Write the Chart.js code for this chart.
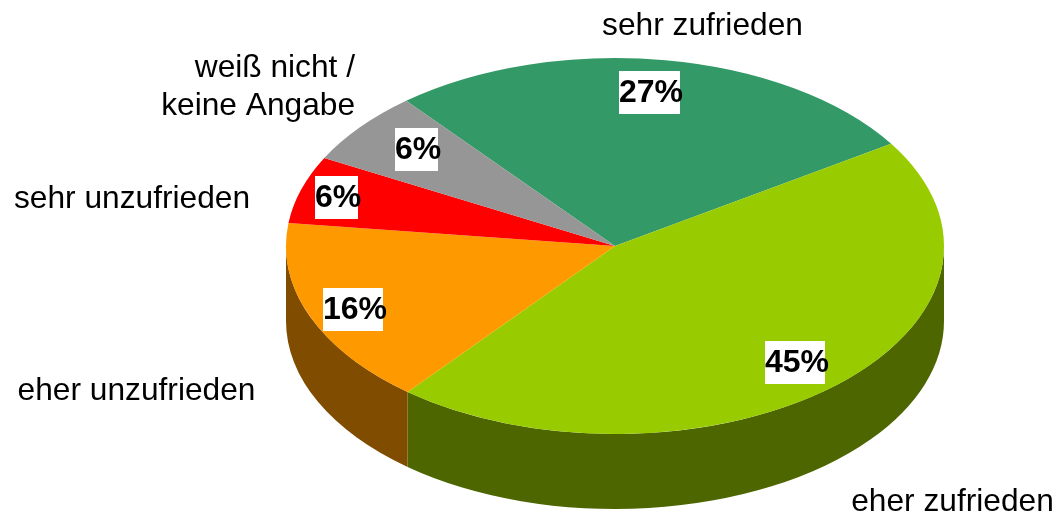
<!DOCTYPE html>
<html>
<head>
<meta charset="utf-8">
<script src="https://cdn.jsdelivr.net/npm/chart.js@4"></script>
<style>
  html, body { margin: 0; padding: 0; background: #fff; }
  canvas { display: block; }
</style>
</head>
<body>
<canvas id="myChart" width="1057" height="517"></canvas>
<script>
// === Daten ===
const categories = ['sehr zufrieden', 'eher zufrieden', 'eher unzufrieden', 'sehr unzufrieden', 'weiß nicht / keine Angabe'];
const values = [26.8, 45, 16.1, 5.8, 6.3];
const colors = ['#339966', '#99CC00', '#FF9900', '#FF0000', '#969696'];
const sideColors = ['#1A4D33', '#4D6600', '#804D00', '#800000', '#4B4B4B'];

// === Aussehen der Torte ===
const stretchX = 329 / 188;
const depth = 75;

// Label-Positionen (y = Grundlinie)
const outerLabels = [
    { lines: ['sehr zufrieden'], x: 702.5, y: 35, align: 'center' },
    { lines: ['eher zufrieden'], x: 952.5, y: 511, align: 'center' },
    { lines: ['eher unzufrieden'], x: 136.5, y: 400, align: 'center' },
    { lines: ['sehr unzufrieden'], x: 132, y: 208, align: 'center' },
    { lines: ['weiß nicht /', 'keine Angabe'], x: 355, y: 77, align: 'right' }
];
// linke obere Ecke der weissen Kästchen
const percentBoxes = [
    { x: 619, y: 71, w: 61 },
    { x: 765, y: 341, w: 60 },
    { x: 323, y: 288, w: 60 },
    { x: 315, y: 176, w: 43 },
    { x: 395, y: 128, w: 43 }
];

const pie3d = {
    id: 'pie3d',
    beforeDatasetsDraw(chart) {
        const ctx = chart.ctx;
        const arcs = chart.getDatasetMeta(0).data;
        const cx = arcs[0].x;
        const cy = arcs[0].y;

        // Ellipse: alles um die Mitte in x strecken
        ctx.save();
        ctx.translate(cx, cy);
        ctx.scale(stretchX, 1);
        ctx.translate(-cx, -cy);

        // Seitenwand: nur der vordere Teil (0 bis PI) ist sichtbar
        arcs.forEach((arc, i) => {
            const from = Math.max(arc.startAngle, 0);
            const to = Math.min(arc.endAngle, Math.PI);
            if (to <= from) return;
            ctx.beginPath();
            ctx.arc(cx, cy, arc.outerRadius, from, to);
            ctx.arc(cx, cy + depth, arc.outerRadius, to, from, true);
            ctx.closePath();
            ctx.fillStyle = sideColors[i];
            ctx.fill();
        });
    },
    afterDatasetsDraw(chart) {
        chart.ctx.restore();
    },
    afterDraw(chart) {
        const ctx = chart.ctx;
        ctx.save();
        ctx.fillStyle = '#000';
        ctx.textBaseline = 'alphabetic';
        ctx.font = '31.7px "Liberation Sans", Arial, sans-serif';
        outerLabels.forEach(l => {
            ctx.textAlign = l.align;
            l.lines.forEach((line, i) => {
                ctx.fillText(line, l.x, l.y + i * 38);
            });
        });

        ctx.textAlign = 'left';
        ctx.font = 'bold 32px "Liberation Sans", Arial, sans-serif';
        percentBoxes.forEach((b, i) => {
            ctx.fillStyle = '#fff';
            ctx.fillRect(b.x, b.y, b.w, 43);
            ctx.fillStyle = '#000';
            ctx.fillText(Math.round(values[i]) + '%', b.x, b.y + 31);
        });
        ctx.restore();
    }
};

new Chart(document.getElementById('myChart'), {
    type: 'pie',
    data: {
        labels: categories,
        datasets: [{
            data: values,
            backgroundColor: colors,
            borderWidth: 0,
            clip: false
        }]
    },
    options: {
        responsive: false,
        animation: false,
        events: [],
        rotation: -39.4,
        layout: { padding: { left: 227, right: 54, top: 58, bottom: 83 } },
        plugins: {
            legend: { display: false },
            title: { display: false },
            tooltip: { enabled: false }
        }
    },
    plugins: [pie3d]
});
</script>
</body>
</html>
